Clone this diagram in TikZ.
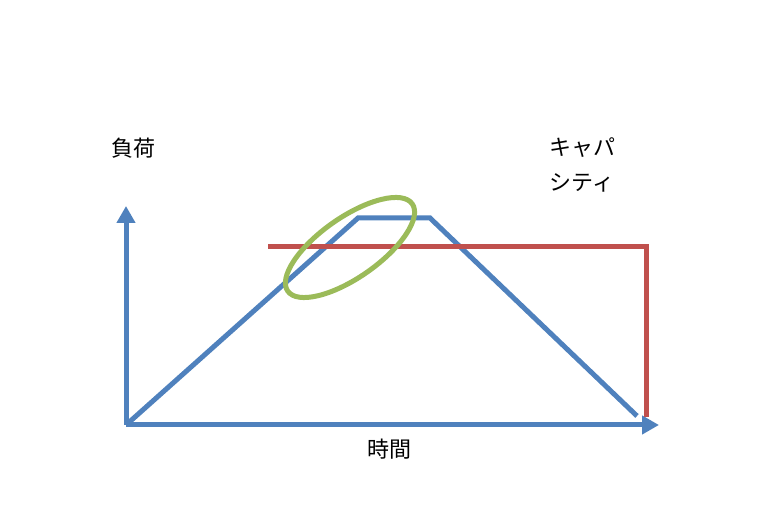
\documentclass[tikz,border=0pt]{standalone}
\usepackage{fontspec}
\setmainfont{Noto Sans CJK JP}
\usetikzlibrary{arrows.meta}
\definecolor{loadblue}{RGB}{79,129,189}
\definecolor{capred}{RGB}{192,80,77}
\definecolor{markgreen}{RGB}{155,187,89}
\tikzset{
	every axis/.style={
		draw=loadblue,
		line width=5pt,
		-{Triangle[length=17pt,width=18pt]}
	},
	load line/.style={
		draw=loadblue,
		line width=5pt
	},
	capacity line/.style={
		draw=capred,
		line width=5pt
	},
	peak mark/.style={
		draw=markgreen,
		line width=5pt
	},
	every label text/.style={
		font=\fontsize{22}{35}\selectfont,
		align=center
	},
}
\begin{document}
\begin{tikzpicture}[x=1pt, y=1pt]
\useasboundingbox (0,0) rectangle (779,529);

\coordinate (origin) at (126,104);
\coordinate (y-end) at (126,323);
\coordinate (x-end) at (659,104);
\coordinate (peak-1) at (358,311);
\coordinate (peak-2) at (430,311);
\coordinate (load-end) at (637,113);
\coordinate (cap-1) at (268,282);
\coordinate (cap-2) at (646,282);
\coordinate (cap-3) at (646,112);

\draw [every axis] (origin) -- (y-end);
\draw [every axis] (origin) -- (x-end);

\draw [load line] (origin) -- (peak-1) -- (peak-2) -- (load-end);
\draw [capacity line] (cap-1) -- (cap-2) -- (cap-3);

\draw [peak mark, rotate around={35:(350,281.5)}] (350,281.5) ellipse (76 and 30);

\foreach \t/\n/\p in {負荷/load/{133,381}, 時間/time/{389,80}, キャパ\\シティ/capacity/{582,364}}
	\node [every label text] (label-\n) at (\p) {\t};

\end{tikzpicture}
\end{document}
